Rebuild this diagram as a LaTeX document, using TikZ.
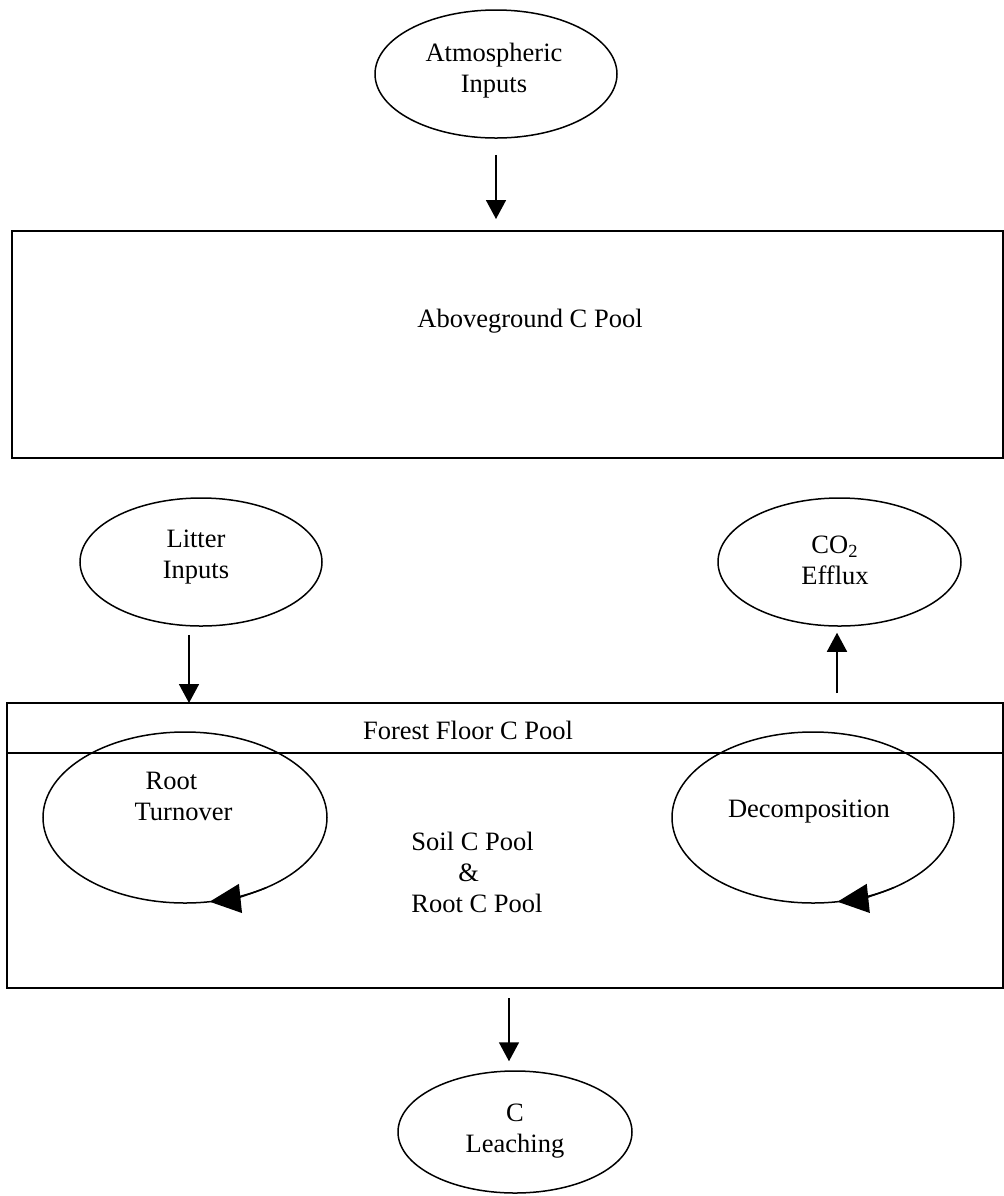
\documentclass[tikz,border=0pt]{standalone}
\usepackage{fontspec}
\setmainfont{Liberation Serif}
\usepackage{tikz}
\usetikzlibrary{arrows.meta,positioning,fit,shapes.geometric}
\newcommand{\poolfont}{\fontsize{13.25}{15.5}\selectfont}

\begin{document}
\begin{tikzpicture}[x=0.5pt, y=-0.5pt,
    every fit/.style={inner sep=0pt, outer sep=0pt, draw, line width=1.1pt},
    every label/.style={font=\poolfont, align=center, inner sep=0pt},
    flux/.style={ellipse, draw, line width=0.75pt, inner sep=0pt},
    flow/.style={-{Triangle[length=9.5pt,width=10pt]}, line width=0.8pt},
    turnarrow/.style={-{Triangle[length=15.5pt,width=14.5pt]}, line width=0.75pt}]
  \useasboundingbox (0,0) rectangle (1004,1196);

  % pools
  \node [fit={(12,231) (1003,458)}, label={[xshift=11.25pt, yshift=11.75pt]center:{Aboveground C Pool}}] (above) {};
  \node [fit={(7,703) (1003,753)}, label={[xshift=-18.5pt, yshift=-1pt]center:{Forest Floor C Pool}}] (floor) {};
  \node [fit={(7,753) (1003,988)}, label={[align=left, xshift=-14pt, yshift=-1pt]center:{Soil C Pool\\\hspace{23.5pt}\&\\Root C Pool}}] (soil) {};

  % fluxes
  \node [flux, minimum width=121pt, minimum height=64pt, label={[xshift=-1pt, yshift=1.5pt]center:{Atmospheric\\Inputs}}] (atm) at (496,74) {};
  \node [flux, minimum width=121pt, minimum height=64pt, label={[xshift=-2.5pt, yshift=2.25pt]center:{Litter\\Inputs}}] (litter) at (201,562) {};
  \node [flux, minimum width=121.5pt, minimum height=64pt, label={[xshift=-2.25pt, yshift=0.75pt]center:{CO\textsubscript{2}\\Efflux}}] (co2) at (839.5,562) {};
  \node [flux, minimum width=142pt, minimum height=85.5pt, label={[align=left, xshift=-0.75pt, yshift=10.5pt]center:{\hspace{5.5pt}Root\\Turnover}}] (root) at (185,817.5) {};
  \node [flux, minimum width=141pt, minimum height=85.5pt, label={[xshift=-2pt, yshift=2.75pt]center:{Decomposition}}] (decomp) at (813,817.5) {};
  \node [flux, minimum width=117pt, minimum height=61pt, label={[yshift=0.5pt]center:{C\\Leaching}}] (leach) at (515,1132) {};

  % arrows
  \draw [flow, shorten <=8pt, shorten >=6pt] (atm.south) -- (atm.south |- above.north);
  \draw [flow, shorten <=4pt] ([xshift=-6pt]litter.south) -- ([xshift=-6pt]litter.south |- floor.north);
  \draw [flow, shorten <=5pt, shorten >=3pt] ([xshift=-1.25pt]co2.south |- floor.north) -- ([xshift=-1.25pt]co2.south);
  \draw [flow, shorten <=5pt, shorten >=4.5pt] ([xshift=-3pt]leach.north |- soil.south) -- ([xshift=-3pt]leach.north);

  \draw [turnarrow] (root.center) ++(55:142 and 85.5) arc[start angle=55, end angle=80, x radius=142, y radius=85.5];
  \draw [turnarrow] (decomp.center) ++(55:141 and 85.5) arc[start angle=55, end angle=80, x radius=141, y radius=85.5];
\end{tikzpicture}
\end{document}
